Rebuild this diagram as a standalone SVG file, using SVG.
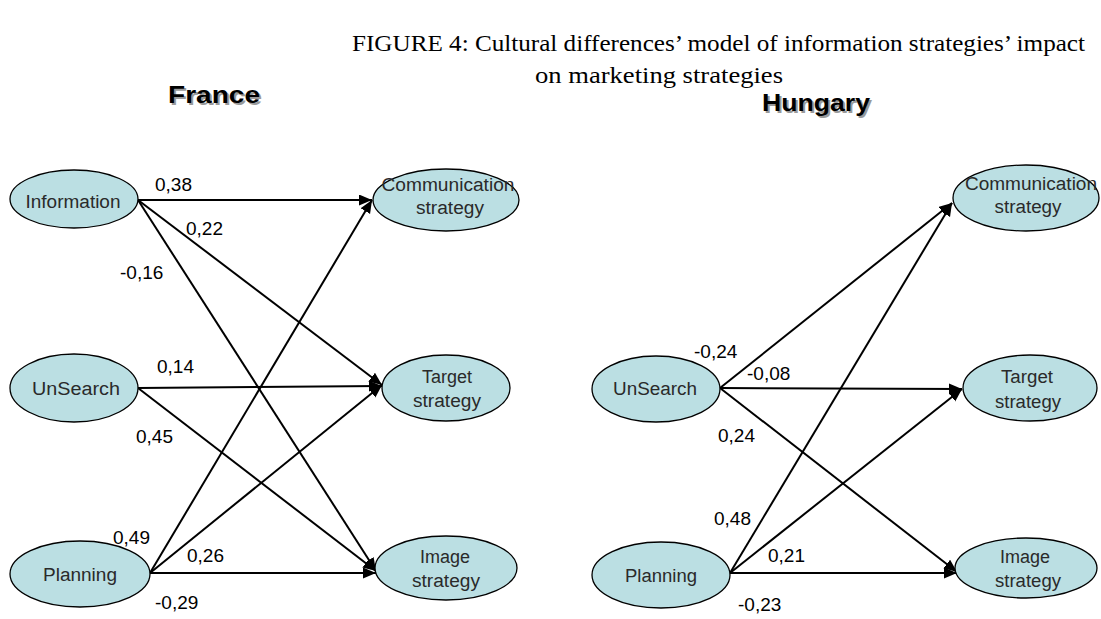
<svg xmlns="http://www.w3.org/2000/svg" width="1101" height="619" viewBox="0 0 1101 619">
  <style>
    .title { font-family: "Liberation Serif", "Times New Roman", serif; font-size: 24px; fill: #000; }
    .country { font-family: "Liberation Sans", Arial, sans-serif; font-size: 23px; font-weight: bold; fill: #000; }
    .shadow { fill: #9a9a9a; }
    .node ellipse { fill: #BBDFE3; stroke: #000; stroke-width: 1.3; }
    .node text { font-family: "Liberation Sans", Arial, sans-serif; font-size: 18px; fill: #2a2a2a; text-anchor: middle; }
    .edge { stroke: #000; stroke-width: 2; fill: none; marker-end: url(#arrow); }
    .lbl { font-family: "Liberation Sans", Arial, sans-serif; font-size: 19px; fill: #000; }
  </style>
  <defs>
    <marker id="arrow" markerUnits="userSpaceOnUse" markerWidth="15" markerHeight="12" refX="13" refY="5.5" orient="auto">
      <path d="M0,0 L13,5.5 L0,11 Z" fill="#000"/>
    </marker>
  </defs>

  <rect width="1101" height="619" fill="#fff"/>

  <!-- Caption -->
  <text class="title" x="352" y="51" textLength="733" lengthAdjust="spacingAndGlyphs">FIGURE 4: Cultural differences’ model of information strategies’ impact</text>
  <text class="title" x="535" y="83" textLength="248" lengthAdjust="spacingAndGlyphs">on marketing strategies</text>

  <!-- Panel headings with drop shadow -->
  <text class="country shadow" x="170" y="105" textLength="92" lengthAdjust="spacingAndGlyphs">France</text>
  <text class="country" x="168" y="103" textLength="92" lengthAdjust="spacingAndGlyphs">France</text>
  <text class="country shadow" x="764" y="113" textLength="108" lengthAdjust="spacingAndGlyphs">Hungary</text>
  <text class="country" x="762" y="111" textLength="108" lengthAdjust="spacingAndGlyphs">Hungary</text>

  <!-- Connectors -->
  <g id="connectors">
    <!-- France -->
    <line class="edge" x1="138" y1="200" x2="372" y2="200"/>
    <line class="edge" x1="138" y1="200" x2="382" y2="385"/>
    <line class="edge" x1="138" y1="200" x2="376" y2="571"/>
    <line class="edge" x1="138" y1="388" x2="382" y2="386"/>
    <line class="edge" x1="138" y1="388" x2="376" y2="571"/>
    <line class="edge" x1="150" y1="573" x2="372" y2="200"/>
    <line class="edge" x1="150" y1="573" x2="382" y2="385"/>
    <line class="edge" x1="150" y1="573" x2="376" y2="573"/>
    <!-- Hungary -->
    <line class="edge" x1="720" y1="388" x2="952" y2="203"/>
    <line class="edge" x1="720" y1="388" x2="962" y2="389"/>
    <line class="edge" x1="720" y1="388" x2="957" y2="572"/>
    <line class="edge" x1="730" y1="573" x2="952" y2="203"/>
    <line class="edge" x1="730" y1="573" x2="962" y2="389"/>
    <line class="edge" x1="730" y1="573" x2="957" y2="573"/>
  </g>

  <!-- Path coefficients -->
  <g id="coefficients">
    <text class="lbl" x="155" y="191">0,38</text>
    <text class="lbl" x="186" y="235">0,22</text>
    <text class="lbl" x="120" y="279">-0,16</text>
    <text class="lbl" x="157" y="373">0,14</text>
    <text class="lbl" x="136" y="443">0,45</text>
    <text class="lbl" x="113" y="544">0,49</text>
    <text class="lbl" x="187" y="562">0,26</text>
    <text class="lbl" x="155" y="609">-0,29</text>

    <text class="lbl" x="694" y="358">-0,24</text>
    <text class="lbl" x="747" y="380">-0,08</text>
    <text class="lbl" x="718" y="442">0,24</text>
    <text class="lbl" x="714" y="525">0,48</text>
    <text class="lbl" x="768" y="562">0,21</text>
    <text class="lbl" x="738" y="611">-0,23</text>
  </g>

  <!-- France nodes -->
  <g id="fr-information" class="node">
    <ellipse cx="74" cy="199" rx="64" ry="29"/>
    <text x="73" y="208" textLength="95" lengthAdjust="spacingAndGlyphs">Information</text>
  </g>
  <g id="fr-unsearch" class="node">
    <ellipse cx="74" cy="388" rx="64" ry="34"/>
    <text x="76" y="395" textLength="88" lengthAdjust="spacingAndGlyphs">UnSearch</text>
  </g>
  <g id="fr-planning" class="node">
    <ellipse cx="80" cy="574" rx="70" ry="33"/>
    <text x="80" y="581" textLength="74" lengthAdjust="spacingAndGlyphs">Planning</text>
  </g>
  <g id="fr-communication" class="node">
    <ellipse cx="446" cy="200" rx="73" ry="31"/>
    <text x="448" y="191" textLength="133" lengthAdjust="spacingAndGlyphs">Communication</text>
    <text x="450" y="214" textLength="68" lengthAdjust="spacingAndGlyphs">strategy</text>
  </g>
  <g id="fr-target" class="node">
    <ellipse cx="446" cy="388" rx="64" ry="33"/>
    <text x="447" y="383" textLength="50" lengthAdjust="spacingAndGlyphs">Target</text>
    <text x="447" y="407" textLength="68" lengthAdjust="spacingAndGlyphs">strategy</text>
  </g>
  <g id="fr-image" class="node">
    <ellipse cx="446" cy="568" rx="71" ry="32"/>
    <text x="445" y="563" textLength="50" lengthAdjust="spacingAndGlyphs">Image</text>
    <text x="446" y="587" textLength="68" lengthAdjust="spacingAndGlyphs">strategy</text>
  </g>

  <!-- Hungary nodes -->
  <g id="hu-unsearch" class="node">
    <ellipse cx="656" cy="389" rx="64" ry="33"/>
    <text x="655" y="395" textLength="84" lengthAdjust="spacingAndGlyphs">UnSearch</text>
  </g>
  <g id="hu-planning" class="node">
    <ellipse cx="661" cy="575" rx="69" ry="33"/>
    <text x="661" y="582" textLength="72" lengthAdjust="spacingAndGlyphs">Planning</text>
  </g>
  <g id="hu-communication" class="node">
    <ellipse cx="1026" cy="198" rx="73" ry="33"/>
    <text x="1031" y="190" textLength="132" lengthAdjust="spacingAndGlyphs">Communication</text>
    <text x="1028" y="213" textLength="67" lengthAdjust="spacingAndGlyphs">strategy</text>
  </g>
  <g id="hu-target" class="node">
    <ellipse cx="1030" cy="388" rx="67" ry="33"/>
    <text x="1027" y="383" textLength="52" lengthAdjust="spacingAndGlyphs">Target</text>
    <text x="1028" y="408" textLength="66" lengthAdjust="spacingAndGlyphs">strategy</text>
  </g>
  <g id="hu-image" class="node">
    <ellipse cx="1026" cy="568" rx="71" ry="30"/>
    <text x="1025" y="563" textLength="50" lengthAdjust="spacingAndGlyphs">Image</text>
    <text x="1028" y="587" textLength="66" lengthAdjust="spacingAndGlyphs">strategy</text>
  </g>
</svg>
